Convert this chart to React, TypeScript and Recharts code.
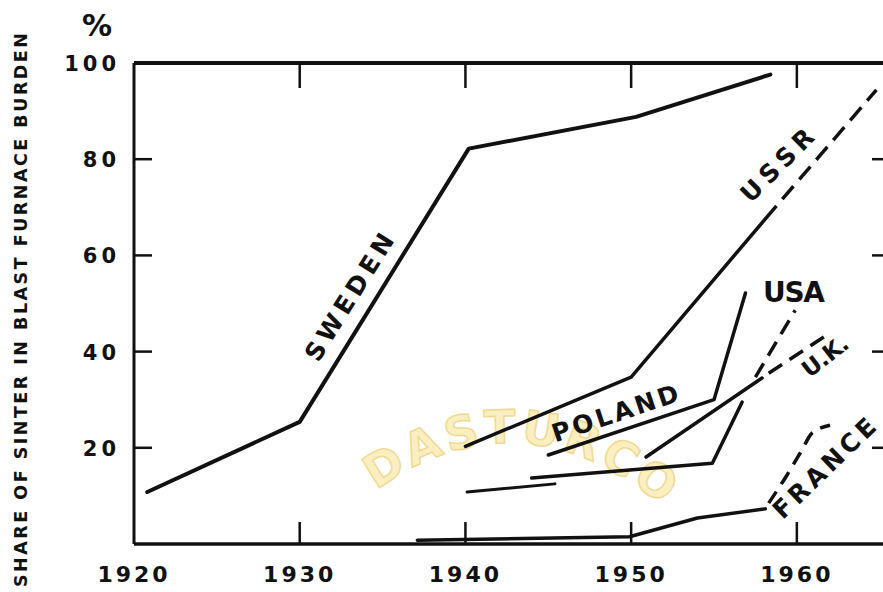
import React from 'react';
import { LineChart, Line, XAxis, YAxis, Customized } from 'recharts';

// ---- data (year, % share of sinter in blast furnace burden) ----
const xTicks = [1920, 1930, 1940, 1950, 1960];
const yTicks = [20, 40, 60, 80, 100];

const sweden = [
  { year: 1920.8, share: 10.8 },
  { year: 1930, share: 25.4 },
  { year: 1940.2, share: 82.2 },
  { year: 1950.3, share: 88.8 },
  { year: 1958.4, share: 97.6 },
];
const ussr = [
  { year: 1940, share: 20.3 },
  { year: 1950, share: 34.7 },
  { year: 1958.1, share: 67.6 },
];
const ussrForecast = [
  { year: 1958.1, share: 67.6 },
  { year: 1964.8, share: 94.4 },
];
const poland = [
  { year: 1945, share: 18.5 },
  { year: 1955, share: 30 },
  { year: 1956.9, share: 52.2 },
];
const usaEarly = [
  { year: 1940.1, share: 10.8 },
  { year: 1945.4, share: 12.5 },
];
const usa = [
  { year: 1944, share: 13.7 },
  { year: 1954.9, share: 16.8 },
  { year: 1956.7, share: 29.5 },
];
const usaForecast = [
  { year: 1957.5, share: 34.7 },
  { year: 1959.9, share: 48.6 },
];
const uk = [
  { year: 1950.9, share: 18.1 },
  { year: 1957.9, share: 34.5 },
];
const ukForecast = [
  { year: 1958.3, share: 35.5 },
  { year: 1962, share: 43.9 },
];
const france = [
  { year: 1937.1, share: 0.8 },
  { year: 1949.9, share: 1.5 },
  { year: 1954, share: 5.4 },
  { year: 1958.1, share: 7.3 },
];
const franceForecast = [
  { year: 1958.3, share: 8.5 },
  { year: 1959.4, share: 14.3 },
  { year: 1960.3, share: 19.5 },
  { year: 1960.9, share: 23.0 },
  { year: 1962, share: 24.7 },
];

const yAxisTitle = 'SHARE OF SINTER IN BLAST FURNACE BURDEN';
const unitLabel = '%';
const watermark = 'DASTURCO';

const INK = '#111';
const FONT = '"DejaVu Sans", sans-serif';

const BottomTick = (props: any) => {
  const { x, y, payload } = props;
  return (
    <g>
      {payload.value !== 1920 && (
        <line x1={x} x2={x} y1={y} y2={y - 22} stroke={INK} strokeWidth={2.5} />
      )}
      <text x={x} y={y + 38} textAnchor="middle" fontFamily={FONT} fontWeight="bold" fontSize={22} letterSpacing={3} fill={INK}>
        {payload.value}
      </text>
    </g>
  );
};

const TopTick = (props: any) => {
  const { x, y, payload } = props;
  if (payload.value === 1920) return <g />;
  return <line x1={x} x2={x} y1={y} y2={y + 25} stroke={INK} strokeWidth={2.5} />;
};

const LeftTick = (props: any) => {
  const { x, y, payload } = props;
  return (
    <g>
      {payload.value !== 100 && (
        <line x1={x} x2={x + 18} y1={y} y2={y} stroke={INK} strokeWidth={2.5} />
      )}
      <text x={x - 14} y={y + 8} textAnchor="end" fontFamily={FONT} fontWeight="bold" fontSize={21} letterSpacing={4} fill={INK}>
        {payload.value}
      </text>
    </g>
  );
};

const RightTick = (props: any) => {
  const { x, y } = props;
  return <line x1={x} x2={x - 16} y1={y} y2={y} stroke={INK} strokeWidth={2.5} />;
};

const Rot = ({ cx, cy, angle, len, size, text }: any) => (
  <text
    transform={`translate(${cx},${cy}) rotate(${angle})`}
    x={0}
    y={0}
    dy="0.36em"
    textAnchor="middle"
    textLength={len}
    lengthAdjust="spacing"
    fontFamily={FONT}
    fontWeight="bold"
    fontSize={size}
    fill={INK}
  >
    {text}
  </text>
);

const Labels = () => (
  <g>
    <defs>
      <path id="wmPath" d="M 380 488 Q 520 390 662 505" />
    </defs>
    <text fontFamily={FONT} fontWeight="bold" fontSize={46} fill="#fbefc2" stroke="#f1da90" strokeWidth={1.5} letterSpacing={4}>
      <textPath href="#wmPath" startOffset="50%" textAnchor="middle">{watermark}</textPath>
    </text>
    <text transform="translate(27,310) rotate(-90)" textAnchor="middle" textLength={554} lengthAdjust="spacing" fontFamily={FONT} fontWeight="bold" fontSize={17.5} fill={INK}>
      {yAxisTitle}
    </text>
    <text x={97} y={36} textAnchor="middle" fontFamily={FONT} fontWeight="bold" fontSize={30} fill={INK}>{unitLabel}</text>
    <Rot cx={349} cy={297} angle={-58} len={145} size={25} text="SWEDEN" />
    <Rot cx={777} cy={165} angle={-45} len={92} size={25} text="USSR" />
    <Rot cx={794} cy={292} angle={0} len={62} size={28} text="USA" />
    <Rot cx={615} cy={413} angle={-18.5} len={132} size={25} text="POLAND" />
    <Rot cx={825} cy={356} angle={-38} len={52} size={23} text="U.K." />
    <Rot cx={824} cy={468} angle={-44} len={132} size={25} text="FRANCE" />
  </g>
);

const lineProps = {
  type: 'linear' as const,
  dataKey: 'share',
  stroke: INK,
  strokeWidth: 3.5,
  dot: false,
  isAnimationActive: false,
  strokeLinejoin: 'round' as const,
  strokeLinecap: 'round' as const,
};

export default function App() {
  return (
    <div style={{ position: 'fixed', left: 0, top: 0, width: 883, height: 592, overflow: 'hidden', background: '#fff' }}>
      <LineChart width={900} height={592} margin={{ top: 33, right: 0, bottom: 0, left: 0 }}>
        <Customized component={Labels} />
        <XAxis
          xAxisId={0}
          type="number"
          dataKey="year"
          domain={[1920, 1965.5]}
          ticks={xTicks}
          interval={0}
          height={48}
          tickSize={0}
          tickMargin={0}
          tickLine={false}
          axisLine={{ stroke: INK, strokeWidth: 3.5 }}
          tick={<BottomTick />}
          allowDataOverflow
        />
        <XAxis
          xAxisId="top"
          orientation="top"
          type="number"
          dataKey="year"
          domain={[1920, 1965.5]}
          ticks={xTicks}
          interval={0}
          height={30}
          tickSize={0}
          tickMargin={0}
          tickLine={false}
          axisLine={{ stroke: INK, strokeWidth: 4 }}
          tick={<TopTick />}
          allowDataOverflow
        />
        <YAxis
          yAxisId={0}
          type="number"
          domain={[0, 100]}
          ticks={yTicks}
          interval={0}
          width={134}
          tickSize={0}
          tickMargin={0}
          tickLine={false}
          axisLine={{ stroke: INK, strokeWidth: 3 }}
          tick={<LeftTick />}
          allowDataOverflow
        />
        <YAxis
          yAxisId="right"
          orientation="right"
          type="number"
          domain={[0, 100]}
          ticks={[20, 40, 60, 80]}
          interval={0}
          width={12}
          tickSize={0}
          tickMargin={0}
          tickLine={false}
          axisLine={{ stroke: INK, strokeWidth: 3 }}
          tick={<RightTick />}
          allowDataOverflow
        />
        <Line {...lineProps} data={sweden} name="Sweden" strokeWidth={4} />
        <Line {...lineProps} data={ussr} name="USSR" />
        <Line {...lineProps} data={ussrForecast} name="USSR (forecast)" strokeDasharray="17 9" strokeLinecap="butt" />
        <Line {...lineProps} data={poland} name="Poland" />
        <Line {...lineProps} data={usaEarly} name="USA (early)" strokeWidth={3} />
        <Line {...lineProps} data={usa} name="USA" />
        <Line {...lineProps} data={usaForecast} name="USA (forecast)" strokeDasharray="16 9" strokeLinecap="butt" />
        <Line {...lineProps} data={uk} name="U.K." />
        <Line {...lineProps} data={ukForecast} name="U.K. (forecast)" strokeDasharray="16 9" strokeLinecap="butt" />
        <Line {...lineProps} data={france} name="France" />
        <Line {...lineProps} type="monotone" data={franceForecast} name="France (forecast)" strokeDasharray="14 9" strokeLinecap="butt" />
      </LineChart>
    </div>
  );
}
